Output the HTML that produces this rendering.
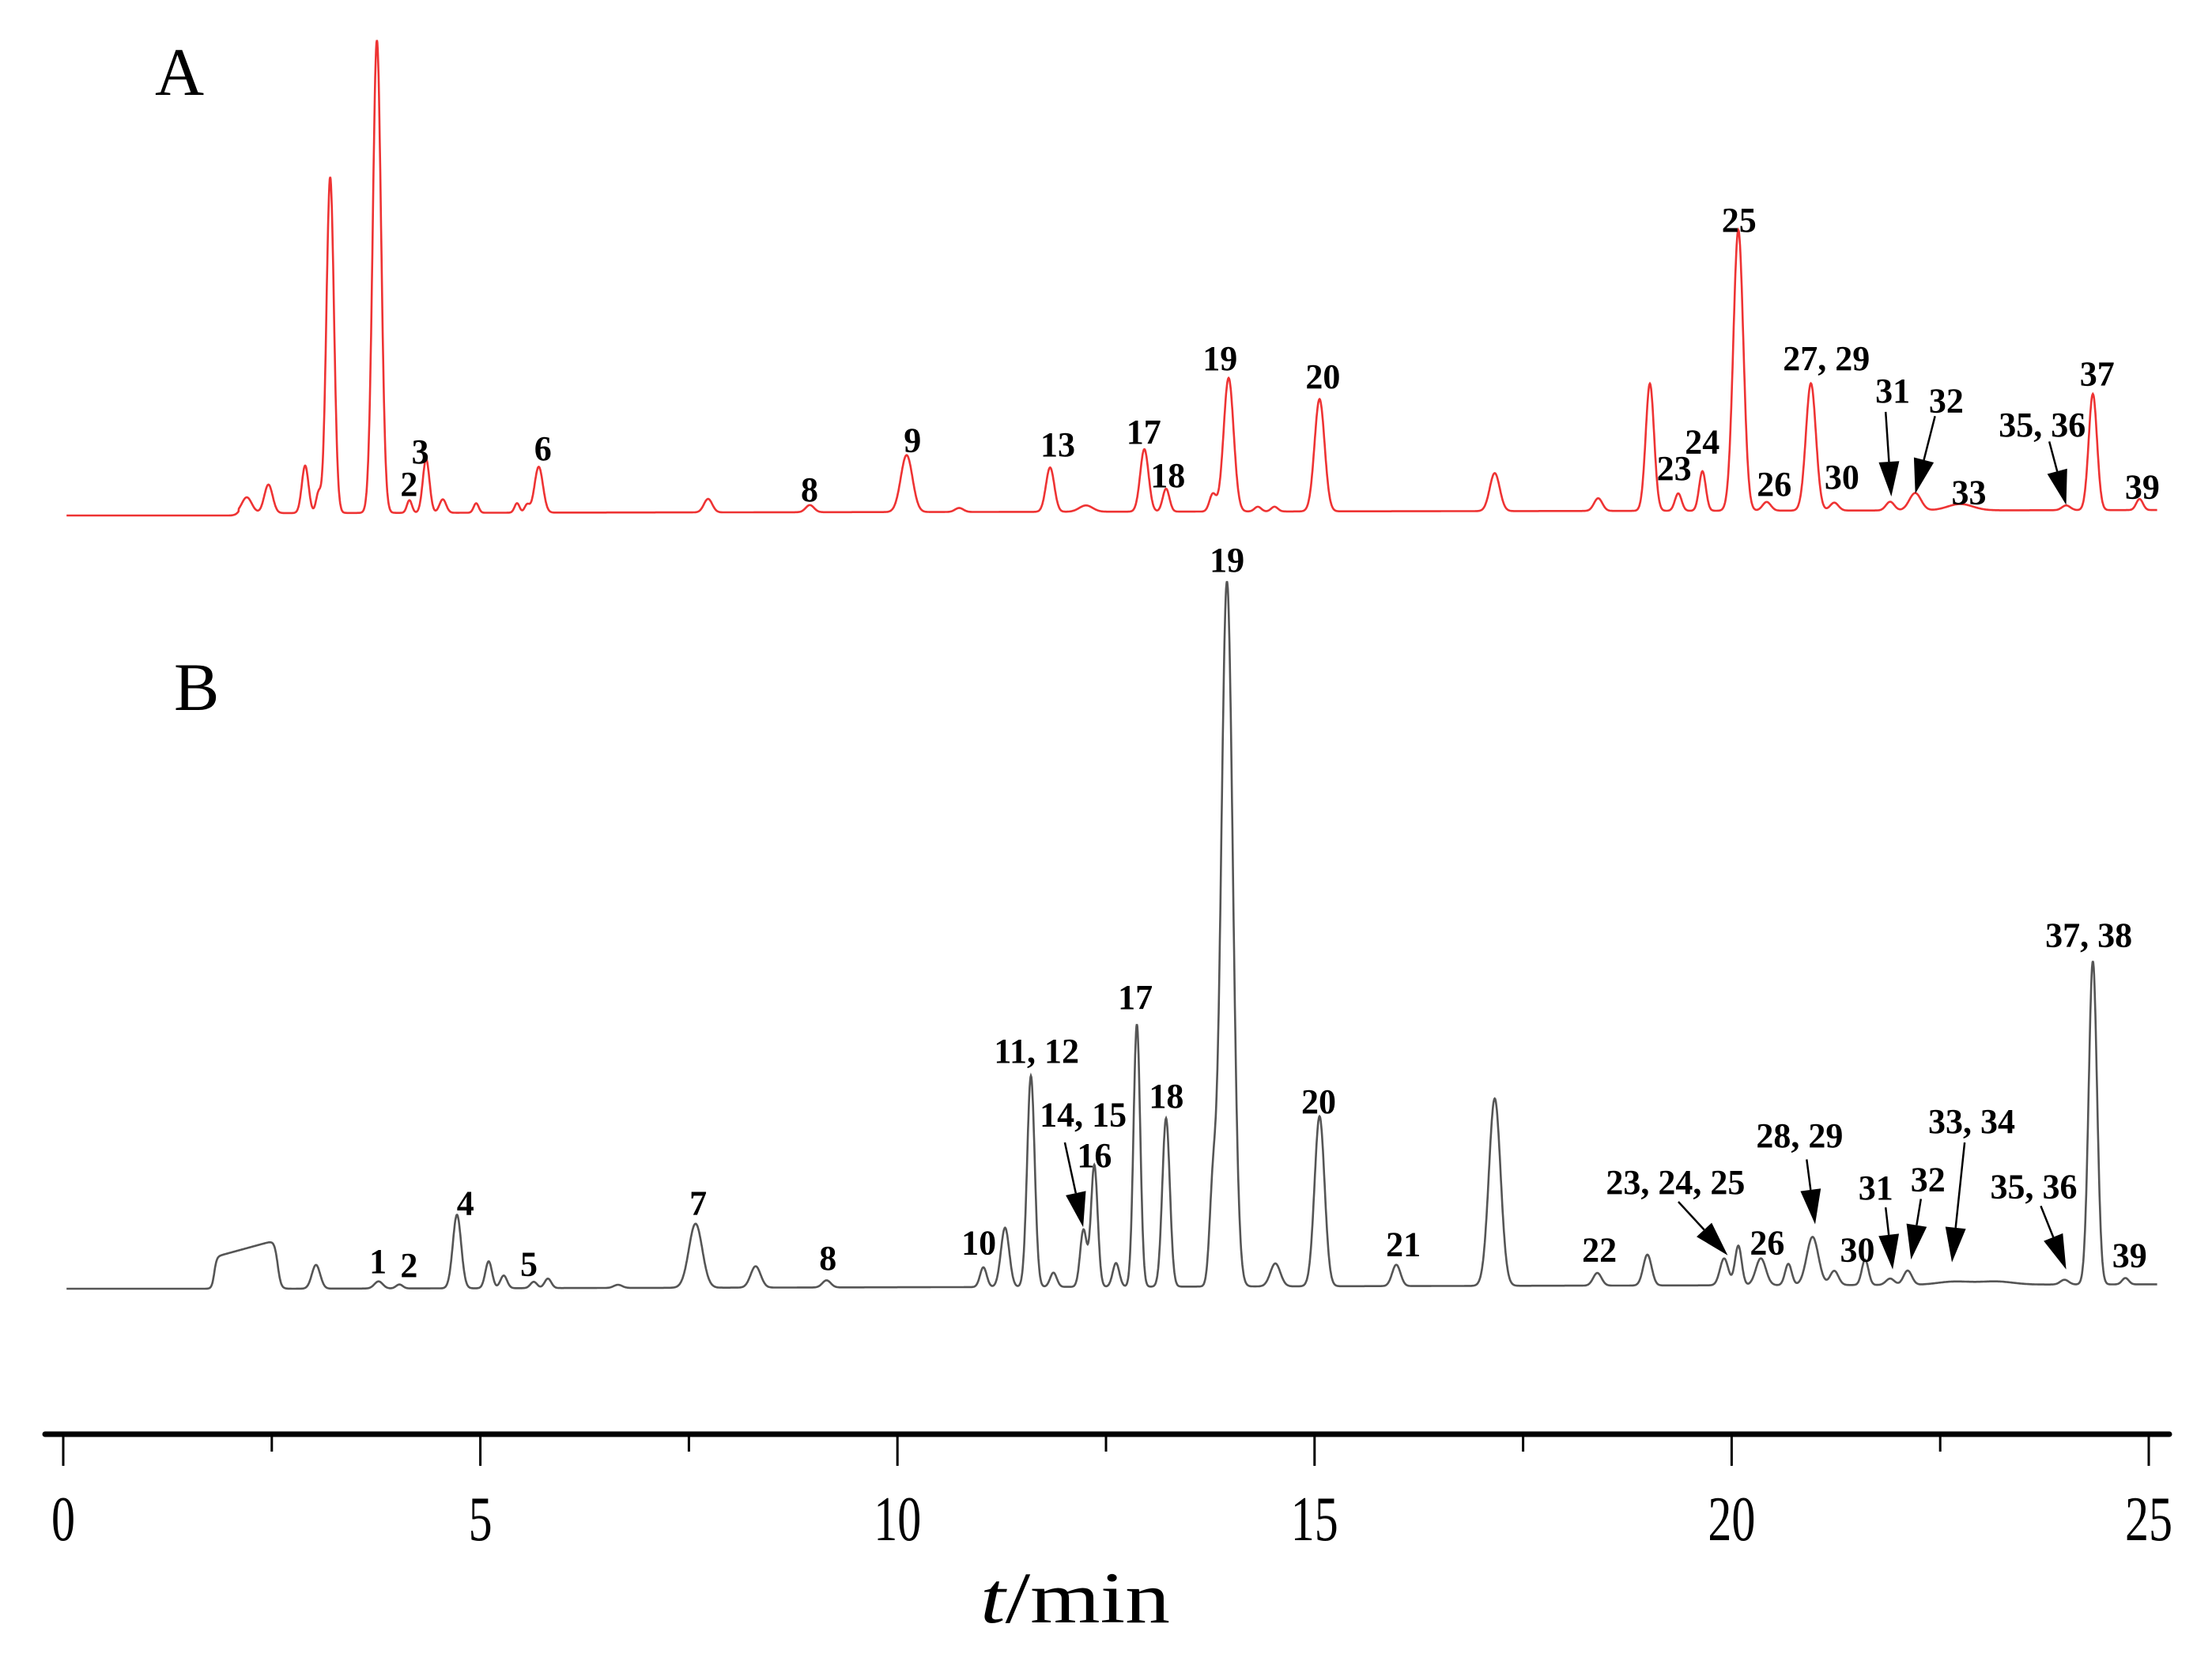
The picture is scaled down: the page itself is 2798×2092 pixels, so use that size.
<!DOCTYPE html>
<html><head><meta charset="utf-8">
<style>
html,body{margin:0;padding:0;background:#fff;}
svg{display:block;}
.lbl{font-family:"Liberation Serif",serif;font-weight:bold;font-size:44px;fill:#000;}
.tick{font-family:"Liberation Serif",serif;font-size:80px;fill:#000;}
</style></head>
<body>
<svg id="chart" width="2798" height="2092" viewBox="0 0 2798 2092" xmlns="http://www.w3.org/2000/svg">
<g id="gA"></g>
<g id="gB"></g>
<g id="gLab"></g>
<g id="gAxis"></g>
<text x="196" y="120" style="font-family:'Liberation Serif',serif;font-size:86px;">A</text>
<text x="220" y="898" style="font-family:'Liberation Serif',serif;font-size:86px;">B</text>
<text x="1240" y="2052" style="font-family:'Liberation Serif',serif;font-size:92px;" textLength="240" lengthAdjust="spacingAndGlyphs"><tspan font-style="italic">t</tspan>/min</text>
</svg>
<script>
// ---- data ----
const xTicks = [0,5,10,15,20,25];
const xMinorTicks = [2.5,7.5,12.5,17.5,22.5];
// Trace A peaks: retention time (min), height, width (sigma)
const peaksA_t = [2.2,2.46,2.9,3.06,3.2,3.76,4.15,4.35,4.55,4.95,5.44,5.56,5.7,7.73,8.95,10.11,10.74,11.83,12.26,12.96,13.22,13.78,13.97,14.32,14.52,15.06,17.16,18.4,19.02,19.36,19.65,20.08,20.42,20.95,21.23,21.9,22.2,22.74,24.01,24.33,24.89];
const peaksA_h = [20,36,60,25,425,598,16,68,17,12,12,10,58,17,9,72,5,56,8,79,29,22,169,6,6,142,48,16,161,22,50,355,11,161,10,11,22,8,6,147,14];
const peaksA_w = [0.06,0.05,0.04,0.03,0.045,0.05,0.03,0.04,0.04,0.03,0.03,0.03,0.05,0.05,0.05,0.07,0.05,0.05,0.08,0.05,0.04,0.04,0.06,0.04,0.04,0.06,0.06,0.05,0.05,0.04,0.04,0.06,0.05,0.06,0.05,0.05,0.07,0.15,0.05,0.05,0.04];
// Trace B peaks
const peaksB_t = [3.03,3.78,4.03,4.72,5.1,5.28,5.64,5.81,6.65,7.58,8.3,9.15,11.03,11.29,11.6,11.87,12.23,12.36,12.62,12.87,13.22,13.78,13.95,14.53,15.06,15.98,17.16,18.39,18.99,19.91,20.08,20.35,20.68,20.97,21.23,21.6,21.9,22.11,22.67,23.17,23.99,24.33,24.72];
const peaksB_h = [30,9,5,93,34,16,8,12,4,81,27,9,25,75,267,18,72,154,30,332,213,111,892,29,215,27,237,16,39,34,50,34,27,61,18,32,8,18,4,4,6,409,8];
const peaksB_w = [0.05,0.05,0.04,0.05,0.04,0.04,0.04,0.04,0.05,0.08,0.06,0.05,0.04,0.05,0.045,0.04,0.04,0.04,0.04,0.04,0.045,0.04,0.07,0.06,0.06,0.05,0.07,0.05,0.05,0.05,0.04,0.06,0.04,0.07,0.05,0.04,0.05,0.05,0.2,0.2,0.05,0.05,0.04];
// B solvent front plateau: start, end, start height, end height
const plateauB = [1.81,2.57,40,62];
// labels
const labelsA_text = ["2","3","6","8","9","13","17","18","19","20","23","24","25","26","27, 29","30","31","32","33","35, 36","37","39"];
const labelsA_x = [290,298,385,574,647,750,811,828,865,938,1187,1207,1233,1258,1295,1306,1342,1380,1396,1448,1487,1519];
const labelsA_y = [348,325,323,352,317,320,311,342,259,272,337,318,161,348,259,343,282,289,354,306,270,350];
const labelsB_text = ["19","17","11, 12","18","14, 15","16","20","4","7","1","2","5","8","10","21","22","23, 24, 25","26","28, 29","30","31","32","33, 34","35, 36","37, 38","39"];
const labelsB_x = [870,805,735,827,768,776,935,330,495,268,290,375,587,694,995,1134,1188,1253,1276,1317,1330,1367,1398,1442,1481,1510];
const labelsB_y = [402,712,750,782,795,824,786,858,858,899,902,901,897,886,887,891,843,886,810,891,847,841,800,846,668,895];
const arrows = [[1337,292,1341,352],[1372,295,1358,350],[1453,313,1465,358],[755,810,768,870],[1190,852,1225,890],[1281,822,1287,868],[1337,856,1342,900],[1362,850,1355,893],[1393,810,1384,895],[1447,855,1465,900]];

// ---- axis functions ----
const S = 1.784;
function xs(t){ return 80 + t*105.52; }
function baseA(t){ return t<2.1 ? 652 : 649 - (t-2.1)*0.17; }
function baseB(t){ return t<2.6 ? 1630 : 1630 - (t-2.6)*0.25; }
function yA(t,v){ return baseA(t) - v; }
function yB(t,v){ return baseB(t) - v; }
function sig(t,T,H,W){ const d=(t-T)/W; return H*Math.exp(-0.5*d*d); }
function sumPeaks(t,T,H,W){ let s=0; for(let i=0;i<T.length;i++){ s+=sig(t,T[i],H[i],W[i]); } return s; }
function plateau(t){
  const a=plateauB[0], b=plateauB[1];
  const up = 1/(1+Math.exp(-(t-a)/0.015));
  const dn = 1/(1+Math.exp((t-b)/0.02));
  const lvl = plateauB[2] + (plateauB[3]-plateauB[2])*Math.min(1,Math.max(0,(t-a)/(b-a)));
  return lvl*up*dn;
}
const NS='http://www.w3.org/2000/svg';
function build(g, yfun, T,H,W, extra, color, name){
  let d='';
  for(let t=0.04;t<=25.1;t+=0.005){
    const v=sumPeaks(t,T,H,W)+(extra?extra(t):0);
    d+=(d?'L':'M')+xs(t).toFixed(1)+' '+yfun(t,v).toFixed(1);
  }
  const p=document.createElementNS(NS,'path');
  p.setAttribute('d',d);p.setAttribute('fill','none');p.setAttribute('stroke',color);p.setAttribute('stroke-width','2.6');
  
  
  g.appendChild(p);
}
build(document.getElementById('gA'),yA,peaksA_t,peaksA_h,peaksA_w,null,'#ee3333','trace-a-line');
build(document.getElementById('gB'),yB,peaksB_t,peaksB_h,peaksB_w,plateau,'#555555','trace-b-line');

const gl=document.getElementById('gLab');
function addLabels(txt,xx,yy){
  for(let i=0;i<txt.length;i++){
    const e=document.createElementNS(NS,'text');
    e.setAttribute('class','lbl');
    e.setAttribute('x',(xx[i]*S).toFixed(1));e.setAttribute('y',(yy[i]*S+6).toFixed(1));
    e.setAttribute('text-anchor','middle');
    e.textContent=txt[i];
    
    
    gl.appendChild(e);
  }
}
addLabels(labelsA_text,labelsA_x,labelsA_y);
addLabels(labelsB_text,labelsB_x,labelsB_y);
arrows.forEach(a=>{
  const x1=a[0]*S,y1=a[1]*S,x2=a[2]*S,y2=a[3]*S;
  const dx=x2-x1,dy=y2-y1,L=Math.hypot(dx,dy),ux=dx/L,uy=dy/L;
  const hl=44,hw=13;
  const bx=x2-ux*hl,by=y2-uy*hl;
  const ln=document.createElementNS(NS,'line');
  ln.setAttribute('x1',x1);ln.setAttribute('y1',y1);ln.setAttribute('x2',bx);ln.setAttribute('y2',by);
  ln.setAttribute('stroke','#000');ln.setAttribute('stroke-width','2.5');
  
  
  gl.appendChild(ln);
  const pg=document.createElementNS(NS,'polygon');
  pg.setAttribute('points',`${x2},${y2} ${bx-uy*hw},${by+ux*hw} ${bx+uy*hw},${by-ux*hw}`);
  pg.setAttribute('fill','#000');
  
  
  gl.appendChild(pg);
});

const ga=document.getElementById('gAxis');
const al=document.createElementNS(NS,'line');
al.setAttribute('x1',57);al.setAttribute('x2',2744);al.setAttribute('y1',1814);al.setAttribute('y2',1814);
al.setAttribute('stroke','#000');al.setAttribute('stroke-width','7');al.setAttribute('stroke-linecap','round');


ga.appendChild(al);
xTicks.forEach(v=>{
  const l=document.createElementNS(NS,'line');
  l.setAttribute('x1',xs(v));l.setAttribute('x2',xs(v));l.setAttribute('y1',1814);l.setAttribute('y2',1854);
  l.setAttribute('stroke','#000');l.setAttribute('stroke-width','3');
  
  
  ga.appendChild(l);
  const t=document.createElementNS(NS,'text');
  t.setAttribute('class','tick');t.setAttribute('x',xs(v));t.setAttribute('y',1948);t.setAttribute('text-anchor','middle');
  t.setAttribute('transform',`translate(${xs(v)},0) scale(0.75,1) translate(${-xs(v)},0)`);
  t.textContent=String(v);
  
  
  ga.appendChild(t);
});
xMinorTicks.forEach(v=>{
  const l=document.createElementNS(NS,'line');
  l.setAttribute('x1',xs(v));l.setAttribute('x2',xs(v));l.setAttribute('y1',1814);l.setAttribute('y2',1836);
  l.setAttribute('stroke','#000');l.setAttribute('stroke-width','3');
  
  
  ga.appendChild(l);
});
</script>
</body></html>
